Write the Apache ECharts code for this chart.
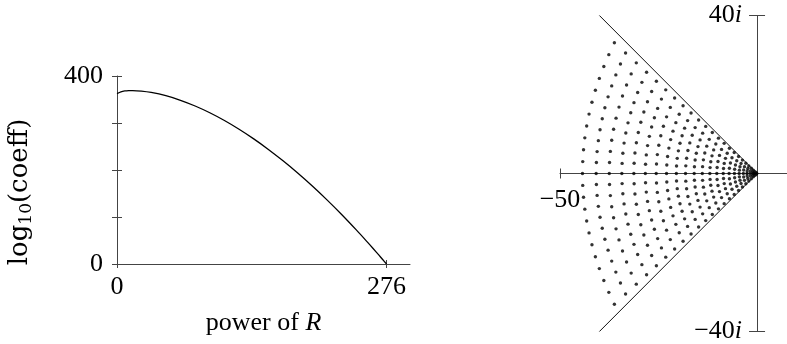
<!DOCTYPE html>
<html>
<head>
<meta charset="utf-8">
<script src="https://cdn.jsdelivr.net/npm/echarts@6/dist/echarts.min.js"></script>
<style>
  html, body { margin: 0; padding: 0; background: #fff; }
  #chart { width: 787px; height: 344px; }
</style>
</head>
<body>
<div id="chart"></div>
<script>
// Left panel: size of the coefficients against the power of R
const powerR   = [0, 4, 8, 12, 16, 25, 35, 50, 65, 80, 95, 110, 125, 140, 155, 170, 185, 200, 215, 230, 245, 255, 262, 268, 272, 276];
const logCoeff = [362.5, 366.3, 368.2, 368.9, 369, 367.9, 365.0, 358.0, 348.3, 336.2, 321.8, 305.3, 286.7, 266.2, 243.8, 219.5, 193.6, 165.9, 136.4, 105.3, 72.5, 49.8, 33.5, 19.3, 9.6, 0];
const leftXTicks = [0, 276];
const leftYTicks = [0, 100, 200, 300, 400];
const leftYLabels = [0, 400];

// Right panel: points in the complex plane
const realAxisPoints = [-0.07, -0.28, -0.64, -1.13, -1.77, -2.55, -3.47, -4.54, -5.74, -7.09,
  -8.58, -10.21, -11.98, -13.89, -15.95, -18.15, -20.48, -22.97, -25.59, -28.35,
  -31.26, -34.31, -37.50, -40.83, -44.30];
// [re, im] above the real axis, arc by arc from the origin outwards
const upperPoints = [
  [-0.23, 0.21],
  [-0.52, 0.48],
  [-1.08, 0.42], [-0.93, 0.85],
  [-1.69, 0.66], [-1.45, 1.32],
  [-2.50, 0.64], [-2.34, 1.27], [-2.09, 1.91],
  [-3.40, 0.87], [-3.19, 1.73], [-2.84, 2.60],
  [-4.48, 0.85], [-4.33, 1.69], [-4.07, 2.54], [-3.71, 3.39],
  [-5.68, 1.07], [-5.48, 2.14], [-5.15, 3.22], [-4.69, 4.29],
  [-7.01, 1.32], [-6.76, 2.65], [-6.36, 3.97], [-5.79, 5.30],
  [-8.51, 1.28], [-8.33, 2.56], [-8.01, 3.84], [-7.57, 5.13], [-7.01, 6.41],
  [-10.13, 1.53], [-9.91, 3.05], [-9.53, 4.58], [-9.01, 6.10], [-8.34, 7.63],
  [-11.92, 1.49], [-11.74, 2.98], [-11.43, 4.47], [-11.01, 5.97], [-10.46, 7.46], [-9.79, 8.95],
  [-13.82, 1.73], [-13.61, 3.46], [-13.26, 5.19], [-12.76, 6.92], [-12.13, 8.65], [-11.35, 10.38],
  [-15.89, 1.70], [-15.71, 3.40], [-15.41, 5.11], [-14.99, 6.81], [-14.46, 8.51], [-13.80, 10.21], [-13.03, 11.92],
  [-18.08, 1.94], [-17.87, 3.87], [-17.54, 5.81], [-17.06, 7.75], [-16.45, 9.68], [-15.71, 11.62], [-14.83, 13.56],
  [-20.43, 1.91], [-20.25, 3.83], [-19.96, 5.74], [-19.55, 7.65], [-19.02, 9.57], [-18.38, 11.48], [-17.62, 13.39], [-16.74, 15.30],
  [-22.90, 2.14], [-22.70, 4.29], [-22.37, 6.43], [-21.92, 8.58], [-21.33, 10.72], [-20.60, 12.87], [-19.75, 15.01], [-18.77, 17.16],
  [-25.51, 2.39], [-25.30, 4.78], [-24.93, 7.17], [-24.42, 9.56], [-23.76, 11.95], [-22.96, 14.34], [-22.01, 16.73], [-20.91, 19.12],
  [-28.29, 2.35], [-28.10, 4.71], [-27.78, 7.06], [-27.33, 9.41], [-26.75, 11.77], [-26.05, 14.12], [-25.22, 16.48], [-24.26, 18.83], [-23.17, 21.18],
  [-31.19, 2.59], [-30.98, 5.19], [-30.62, 7.78], [-30.13, 10.38], [-29.49, 12.97], [-28.72, 15.57], [-27.80, 18.16], [-26.74, 20.76], [-25.54, 23.35],
  [-34.24, 2.56], [-34.05, 5.13], [-33.74, 7.69], [-33.30, 10.25], [-32.74, 12.82], [-32.05, 15.38], [-31.23, 17.94], [-30.29, 20.50], [-29.22, 23.07], [-28.03, 25.63],
  [-37.43, 2.80], [-37.22, 5.60], [-36.88, 8.40], [-36.40, 11.21], [-35.78, 14.01], [-35.03, 16.81], [-34.14, 19.61], [-33.11, 22.41], [-31.94, 25.21], [-30.64, 28.01],
  [-40.76, 2.77], [-40.58, 5.55], [-40.27, 8.32], [-39.84, 11.09], [-39.28, 13.87], [-38.61, 16.64], [-37.80, 19.41], [-36.88, 22.18], [-35.83, 24.96], [-34.66, 27.73], [-33.36, 30.50],
  [-44.23, 3.01], [-44.03, 6.02], [-43.70, 9.03], [-43.23, 12.04], [-42.63, 15.04], [-41.89, 18.05], [-41.02, 21.06], [-40.02, 24.07], [-38.88, 27.08], [-37.61, 30.09], [-36.20, 33.10]
];
// the matching points below the real axis (complex conjugates)
const lowerPoints = [
  [-0.23, -0.21],
  [-0.52, -0.48],
  [-1.08, -0.42], [-0.93, -0.85],
  [-1.69, -0.66], [-1.45, -1.32],
  [-2.50, -0.64], [-2.34, -1.27], [-2.09, -1.91],
  [-3.40, -0.87], [-3.19, -1.73], [-2.84, -2.60],
  [-4.48, -0.85], [-4.33, -1.69], [-4.07, -2.54], [-3.71, -3.39],
  [-5.68, -1.07], [-5.48, -2.14], [-5.15, -3.22], [-4.69, -4.29],
  [-7.01, -1.32], [-6.76, -2.65], [-6.36, -3.97], [-5.79, -5.30],
  [-8.51, -1.28], [-8.33, -2.56], [-8.01, -3.84], [-7.57, -5.13], [-7.01, -6.41],
  [-10.13, -1.53], [-9.91, -3.05], [-9.53, -4.58], [-9.01, -6.10], [-8.34, -7.63],
  [-11.92, -1.49], [-11.74, -2.98], [-11.43, -4.47], [-11.01, -5.97], [-10.46, -7.46], [-9.79, -8.95],
  [-13.82, -1.73], [-13.61, -3.46], [-13.26, -5.19], [-12.76, -6.92], [-12.13, -8.65], [-11.35, -10.38],
  [-15.89, -1.70], [-15.71, -3.40], [-15.41, -5.11], [-14.99, -6.81], [-14.46, -8.51], [-13.80, -10.21], [-13.03, -11.92],
  [-18.08, -1.94], [-17.87, -3.87], [-17.54, -5.81], [-17.06, -7.75], [-16.45, -9.68], [-15.71, -11.62], [-14.83, -13.56],
  [-20.43, -1.91], [-20.25, -3.83], [-19.96, -5.74], [-19.55, -7.65], [-19.02, -9.57], [-18.38, -11.48], [-17.62, -13.39], [-16.74, -15.30],
  [-22.90, -2.14], [-22.70, -4.29], [-22.37, -6.43], [-21.92, -8.58], [-21.33, -10.72], [-20.60, -12.87], [-19.75, -15.01], [-18.77, -17.16],
  [-25.51, -2.39], [-25.30, -4.78], [-24.93, -7.17], [-24.42, -9.56], [-23.76, -11.95], [-22.96, -14.34], [-22.01, -16.73], [-20.91, -19.12],
  [-28.29, -2.35], [-28.10, -4.71], [-27.78, -7.06], [-27.33, -9.41], [-26.75, -11.77], [-26.05, -14.12], [-25.22, -16.48], [-24.26, -18.83], [-23.17, -21.18],
  [-31.19, -2.59], [-30.98, -5.19], [-30.62, -7.78], [-30.13, -10.38], [-29.49, -12.97], [-28.72, -15.57], [-27.80, -18.16], [-26.74, -20.76], [-25.54, -23.35],
  [-34.24, -2.56], [-34.05, -5.13], [-33.74, -7.69], [-33.30, -10.25], [-32.74, -12.82], [-32.05, -15.38], [-31.23, -17.94], [-30.29, -20.50], [-29.22, -23.07], [-28.03, -25.63],
  [-37.43, -2.80], [-37.22, -5.60], [-36.88, -8.40], [-36.40, -11.21], [-35.78, -14.01], [-35.03, -16.81], [-34.14, -19.61], [-33.11, -22.41], [-31.94, -25.21], [-30.64, -28.01],
  [-40.76, -2.77], [-40.58, -5.55], [-40.27, -8.32], [-39.84, -11.09], [-39.28, -13.87], [-38.61, -16.64], [-37.80, -19.41], [-36.88, -22.18], [-35.83, -24.96], [-34.66, -27.73], [-33.36, -30.50],
  [-44.23, -3.01], [-44.03, -6.02], [-43.70, -9.03], [-43.23, -12.04], [-42.63, -15.04], [-41.89, -18.05], [-41.02, -21.06], [-40.02, -24.07], [-38.88, -27.08], [-37.61, -30.09], [-36.20, -33.10]
];
const sectorEdge = [[-40, 40], [0, 0], [-40, -40]];
const rightXTicks = [-50];
const rightYTicks = [-40, 40];

const FONT = 'Liberation Serif';
const AX = '#444';
const txt = { fontFamily: FONT, fontSize: 26, color: '#000' };

const curve = powerR.map((x, i) => [x, logCoeff[i]]);
const pts = realAxisPoints.map(x => [x, 0]).concat(upperPoints, lowerPoints);

const noLine = { show: false };
const hidden = { show: false };
const bare = (g, min, max) => ({
  gridIndex: g, type: 'value', min, max,
  axisLine: hidden, axisTick: hidden, axisLabel: hidden, splitLine: hidden
});
const grid = (left, top, width, height) => ({ left, top, width, height, outerBoundsMode: 'none', containLabel: false });

// left panel, plus a twin carrying the inner half of each tick
const G_LEFT = grid(117, 76, 293, 188);
// right panel: data area, real-axis strip (bottom edge on the origin), imaginary-axis strip (left edge on the origin)
const G_RIGHT = grid(560, 15.5, 227, 316);
const G_REAL = grid(560, 15.5, 227, 158);
const G_IMAG = grid(757.05, 15.5, 29.95, 316);

const chart = echarts.init(document.getElementById('chart'), null, { renderer: 'canvas' });
chart.setOption({
  animation: false,
  grid: [G_LEFT, { ...G_LEFT }, G_RIGHT, G_REAL, { ...G_REAL }, G_IMAG, { ...G_IMAG }],
  xAxis: [
    {
      gridIndex: 0, type: 'value', min: 0, max: 300, position: 'bottom',
      axisLine: { onZero: false, lineStyle: { color: AX } },
      splitLine: noLine,
      axisTick: { customValues: leftXTicks, length: 4, lineStyle: { color: AX } },
      axisLabel: { customValues: leftXTicks, margin: 10, ...txt },
      name: '{a|power of }{i|R}', nameLocation: 'middle', nameGap: 46,
      nameTextStyle: { rich: { a: { ...txt }, i: { ...txt, fontStyle: 'italic' } } }
    },
    {
      gridIndex: 1, type: 'value', min: 0, max: 300, position: 'bottom',
      axisLine: { show: false, onZero: false }, splitLine: noLine, axisLabel: noLine,
      axisTick: { inside: true, customValues: leftXTicks, length: 4, lineStyle: { color: AX } }
    },
    bare(2, -50, 7.6),
    {
      gridIndex: 3, type: 'value', min: -50, max: 7.6, position: 'bottom',
      axisLine: { onZero: false, lineStyle: { color: AX } },
      splitLine: noLine,
      axisTick: { customValues: rightXTicks, length: 5, lineStyle: { color: AX } },
      axisLabel: { customValues: rightXTicks, margin: 14, ...txt, formatter: v => '\u2212' + Math.abs(v) }
    },
    {
      gridIndex: 4, type: 'value', min: -50, max: 7.6, position: 'bottom',
      axisLine: { show: false, onZero: false }, splitLine: noLine, axisLabel: noLine,
      axisTick: { inside: true, customValues: rightXTicks, length: 5, lineStyle: { color: AX } }
    },
    bare(5, 0, 1),
    bare(6, 0, 1)
  ],
  yAxis: [
    {
      gridIndex: 0, type: 'value', min: 0, max: 400, position: 'left',
      axisLine: { show: true, onZero: false, lineStyle: { color: AX } },
      splitLine: noLine,
      axisTick: { customValues: leftYTicks, length: 5, lineStyle: { color: AX } },
      axisLabel: { customValues: leftYLabels, margin: 14, ...txt },
      name: '{a|log}{s|10}{a|(coeff)}', nameLocation: 'middle', nameRotate: 90, nameGap: 82,
      nameTextStyle: {
        padding: [0, 44, 0, 0],
        rich: {
          a: { ...txt, fontFamily: 'DejaVu Serif', fontSize: 26 },
          s: { ...txt, fontFamily: 'DejaVu Serif', fontSize: 17, padding: [12, 0, 0, 0] }
        }
      }
    },
    {
      gridIndex: 1, type: 'value', min: 0, max: 400, position: 'left',
      axisLine: { show: false, onZero: false }, splitLine: noLine, axisLabel: noLine,
      axisTick: { inside: true, customValues: leftYTicks, length: 5, lineStyle: { color: AX } }
    },
    bare(2, -40, 40),
    bare(3, 0, 1),
    bare(4, 0, 1),
    {
      gridIndex: 5, type: 'value', min: -40, max: 40, position: 'left',
      axisLine: { show: true, onZero: false, lineStyle: { color: AX } },
      splitLine: noLine,
      axisTick: { customValues: rightYTicks, length: 8, lineStyle: { color: AX } },
      axisLabel: {
        customValues: rightYTicks, margin: 15,
        formatter: v => (v < 0 ? '{n|\u2212' + Math.abs(v) + '}' : '{n|' + v + '}') + '{i|i}',
        rich: { n: { ...txt }, i: { ...txt, fontStyle: 'italic' } }
      }
    },
    {
      gridIndex: 6, type: 'value', min: -40, max: 40, position: 'left',
      axisLine: { show: false, onZero: false }, splitLine: noLine, axisLabel: noLine,
      axisTick: { inside: true, customValues: rightYTicks, length: 8, lineStyle: { color: AX } }
    }
  ],
  series: [
    {
      type: 'line', xAxisIndex: 0, yAxisIndex: 0, data: curve, smooth: 0.25,
      showSymbol: false, lineStyle: { color: '#000', width: 1.3 }
    },
    {
      type: 'line', xAxisIndex: 2, yAxisIndex: 2, data: sectorEdge,
      showSymbol: false, lineStyle: { color: '#111', width: 1 }
    },
    {
      type: 'scatter', xAxisIndex: 2, yAxisIndex: 2, data: pts,
      symbolSize: 3.4, itemStyle: { color: '#000' }
    }
  ]
});
</script>
</body>
</html>
